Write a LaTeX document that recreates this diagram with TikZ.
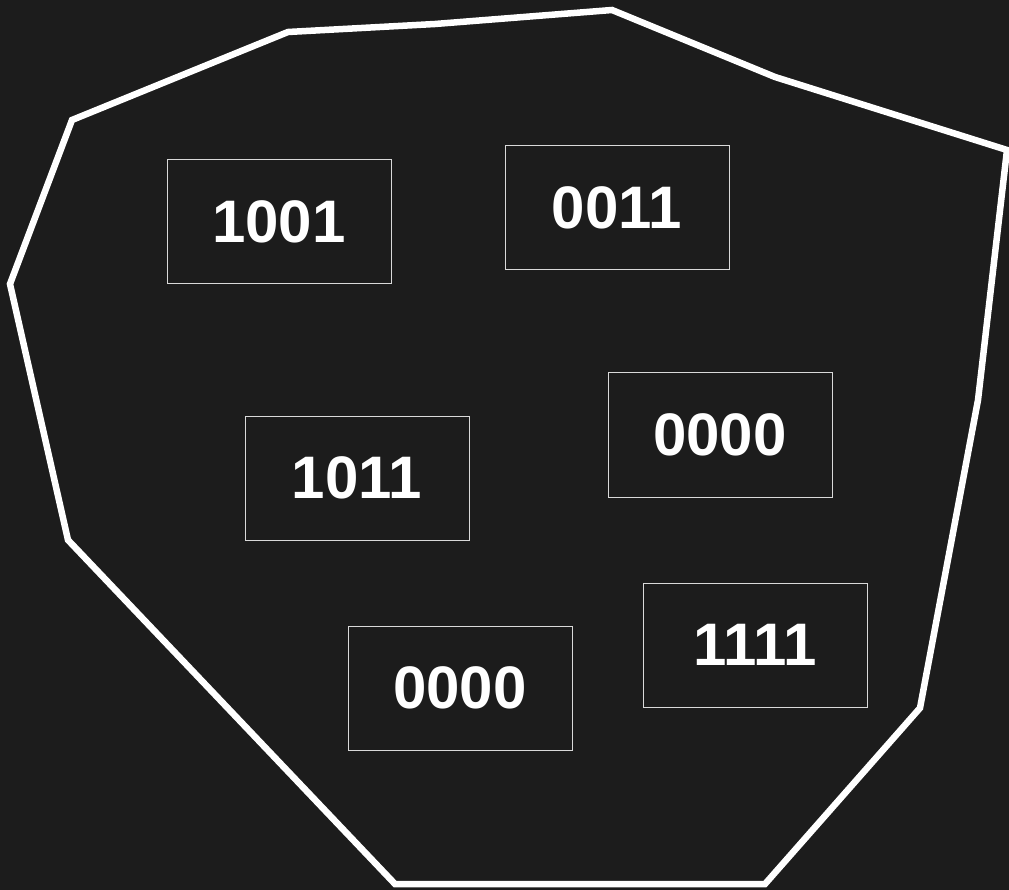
\documentclass[tikz,border=0pt]{standalone}
\usepackage{fontspec}
\setmainfont{Liberation Sans}
\definecolor{bg}{HTML}{1C1C1C}
\begin{document}
\begin{tikzpicture}[x=1pt,y=-1pt,
  bitbox/.style={draw=white!85!black, line width=1pt, minimum width=224pt, minimum height=124pt, inner sep=0pt, text=white, font=\fontsize{60}{60}\selectfont\bfseries},
  hull/.style={draw=white, line width=6.5pt, line join=miter}]
\fill[bg] (0,0) rectangle (1009,890);
\useasboundingbox (0,0) rectangle (1009,890);
\begin{scope}
\clip (0,0) rectangle (1009,890);
\draw[hull] (288,32) -- (435,24) -- (612,10) -- (775,77) -- (1007,150) -- (978,400) -- (920,708) -- (765,884) -- (395,884) -- (68,540) -- (10,284) -- (72,120) -- cycle;
\end{scope}
\node[bitbox] (a) at (279,222) {1001};
\node[bitbox] (b) at (617,208) {0011};
\node[bitbox] (c) at (357,478) {1011};
\node[bitbox] (d) at (720,435) {0000};
\node[bitbox] (e) at (460,688) {0000};
\node[bitbox] (f) at (755,645) {1111};
\end{tikzpicture}
\end{document}
